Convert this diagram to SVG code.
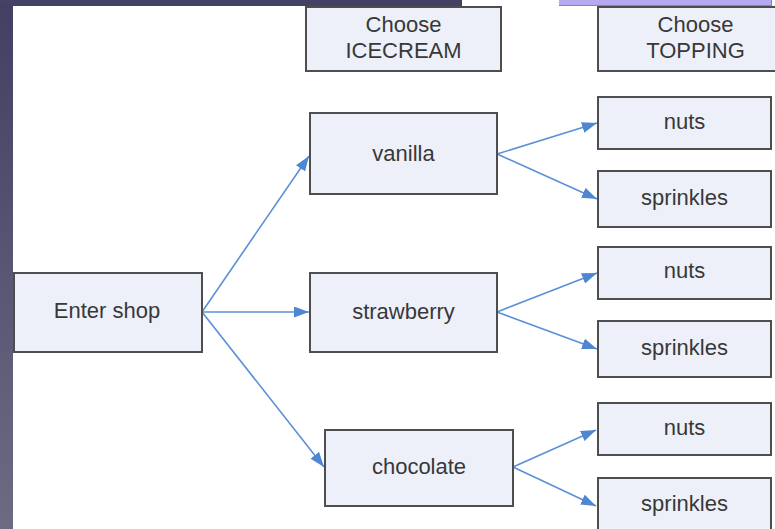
<svg xmlns="http://www.w3.org/2000/svg" width="775" height="529" viewBox="0 0 775 529">
<style>
.box{fill:#edf0f8;stroke:#4e4e4e;stroke-width:2}
.t{font-family:"Liberation Sans",Arial,sans-serif;font-size:22px;fill:#383838;text-anchor:middle}
.c{stroke:#5b90d6;stroke-width:1.6;fill:none;marker-end:url(#ah)}
</style>
<defs>
<linearGradient id="bg" x1="0" y1="0" x2="0" y2="1">
<stop offset="0" stop-color="#414063"/>
<stop offset="1" stop-color="#6d6b83"/>
</linearGradient>
<marker id="ah" viewBox="0 0 15 11" refX="15" refY="5.5" markerWidth="15" markerHeight="11" markerUnits="userSpaceOnUse" orient="auto">
<path d="M0,0 L15,5.5 L0,11 z" fill="#4f86d2"/>
</marker>
</defs>
<rect width="775" height="529" fill="#fff"/>
<rect x="0" y="0" width="13" height="529" fill="url(#bg)"/>
<rect x="0" y="0" width="462" height="6" fill="#434265"/>
<rect x="559" y="0" width="212" height="6" fill="#b7a8f2"/>
<line x1="559" y1="5.5" x2="771" y2="5.5" stroke="#8a80b8" stroke-width="1"/>
<line x1="771.5" y1="0" x2="771.5" y2="6" stroke="#888" stroke-width="1"/>
<g id="connectors">
<line class="c" x1="202" y1="312" x2="309" y2="156"/>
<line class="c" x1="202" y1="312" x2="309" y2="312"/>
<line class="c" x1="202" y1="312" x2="324" y2="467"/>
<line class="c" x1="497" y1="154" x2="597" y2="123"/>
<line class="c" x1="497" y1="154" x2="597" y2="199"/>
<line class="c" x1="497" y1="312" x2="597" y2="273"/>
<line class="c" x1="497" y1="312" x2="597" y2="349"/>
<line class="c" x1="513" y1="467" x2="596" y2="430"/>
<line class="c" x1="513" y1="467" x2="596" y2="506"/>
</g>
<g id="choose-icecream"><rect class="box" x="306" y="7" width="195" height="64"/><text class="t" x="403.5" y="32">Choose</text><text class="t" x="403.5" y="58">ICECREAM</text></g>
<g id="choose-topping"><rect class="box" x="598" y="7" width="195" height="64"/><text class="t" x="695.5" y="32">Choose</text><text class="t" x="695.5" y="58">TOPPING</text></g>
<g id="enter-shop"><rect class="box" x="14" y="273" width="188" height="79"/><text class="t" x="107" y="318">Enter shop</text></g>
<g id="vanilla"><rect class="box" x="310" y="113" width="187" height="81"/><text class="t" x="403.5" y="161">vanilla</text></g>
<g id="strawberry"><rect class="box" x="310" y="273" width="187" height="79"/><text class="t" x="403.5" y="319">strawberry</text></g>
<g id="chocolate"><rect class="box" x="325" y="430" width="188" height="76"/><text class="t" x="419" y="474">chocolate</text></g>
<g id="nuts1"><rect class="box" x="598" y="97" width="173" height="52"/><text class="t" x="684.5" y="129">nuts</text></g>
<g id="sprinkles1"><rect class="box" x="598" y="171" width="173" height="56"/><text class="t" x="684.5" y="205">sprinkles</text></g>
<g id="nuts2"><rect class="box" x="598" y="247" width="173" height="52"/><text class="t" x="684.5" y="278">nuts</text></g>
<g id="sprinkles2"><rect class="box" x="598" y="321" width="173" height="56"/><text class="t" x="684.5" y="355">sprinkles</text></g>
<g id="nuts3"><rect class="box" x="598" y="403" width="173" height="52"/><text class="t" x="684.5" y="435">nuts</text></g>
<g id="sprinkles3"><rect class="box" x="598" y="478" width="173" height="60"/><text class="t" x="684.5" y="511">sprinkles</text></g>
</svg>
